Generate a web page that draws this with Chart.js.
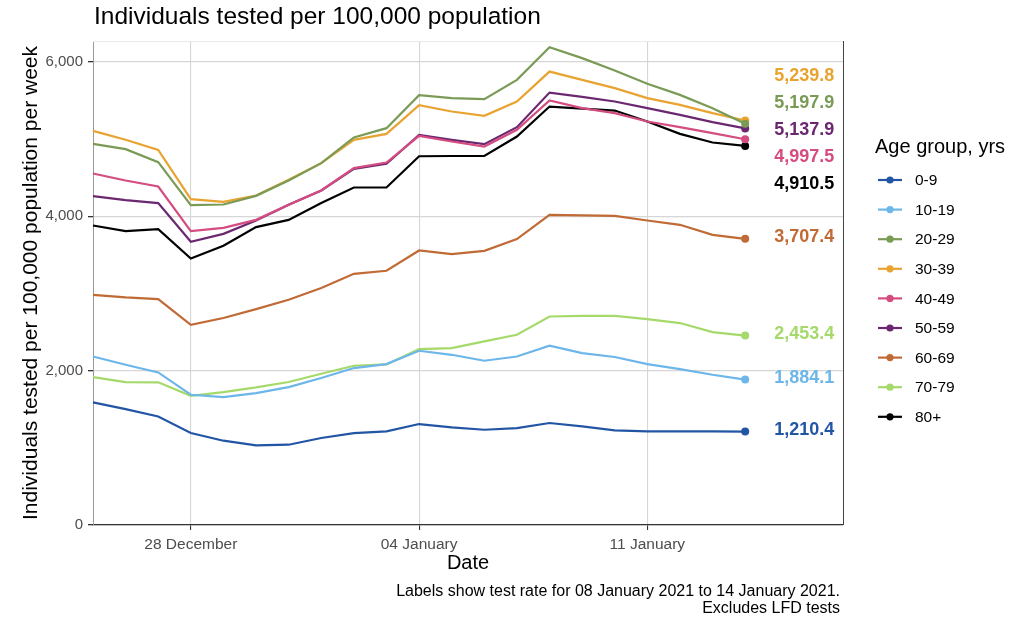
<!DOCTYPE html>
<html>
<head>
<meta charset="utf-8">
<script src="https://cdn.jsdelivr.net/npm/chart.js@4.4.0/dist/chart.umd.min.js"></script>
<style>
  html, body { margin: 0; padding: 0; background: #ffffff; }
  #c { display: block; }
</style>
</head>
<body>
<canvas id="c" width="1015" height="623"></canvas>
<script>
// ---------------- data ----------------
const dates = [
  '2020-12-25','2020-12-26','2020-12-27','2020-12-28','2020-12-29','2020-12-30','2020-12-31',
  '2021-01-01','2021-01-02','2021-01-03','2021-01-04','2021-01-05','2021-01-06','2021-01-07',
  '2021-01-08','2021-01-09','2021-01-10','2021-01-11','2021-01-12','2021-01-13','2021-01-14'
];
const axisEndDate = '2021-01-17';
const tickDates = ['2020-12-28', '2021-01-04', '2021-01-11'];
const tickLabels = ['28 December', '04 January', '11 January'];
const yTicks = [0, 2000, 4000, 6000];

const ageGroups = ['0-9', '10-19', '20-29', '30-39', '40-49', '50-59', '60-69', '70-79', '80+'];

const age0_9   = [1588,1502,1406,1191,1092,1031,1040,1127,1191,1212,1308,1264,1234,1256,1321,1277,1225,1212,1212,1212,1210.4];
const age10_19 = [2183,2076,1976,1687,1657,1709,1787,1904,2033,2085,2257,2205,2128,2183,2322,2227,2176,2085,2020,1946,1884.1];
const age20_29 = [4938,4869,4700,4144,4152,4264,4463,4688,5020,5141,5569,5530,5517,5767,6190,6048,5887,5715,5572,5400,5197.9];
const age30_39 = [5106,4990,4860,4222,4187,4268,4472,4688,4990,5067,5439,5357,5300,5486,5874,5767,5659,5530,5443,5335,5239.8];
const age40_49 = [4553,4463,4385,3807,3850,3953,4148,4333,4623,4696,5041,4968,4903,5119,5499,5400,5335,5227,5154,5076,4997.5];
const age50_59 = [4260,4209,4170,3669,3772,3945,4148,4333,4614,4679,5054,4990,4934,5154,5602,5547,5486,5400,5313,5219,5137.9];
const age60_69 = [2982,2948,2927,2594,2681,2797,2918,3069,3254,3293,3556,3510,3552,3704,4018,4010,4005,3945,3889,3759,3707.4];
const age70_79 = [1916,1852,1848,1674,1722,1782,1852,1959,2063,2080,2279,2292,2378,2464,2701,2710,2710,2668,2616,2499,2453.4];
const age80    = [3880,3807,3833,3453,3617,3859,3953,4170,4372,4372,4777,4780,4780,5032,5421,5395,5369,5227,5067,4955,4910.5];

const seriesValues = [age0_9, age10_19, age20_29, age30_39, age40_49, age50_59, age60_69, age70_79, age80];
const seriesColors = ['#2255a4', '#6db6ea', '#7a9b55', '#e8a330', '#d44c80', '#6b2870', '#c06a35', '#a5d96a', '#000000'];

// ---------------- helpers ----------------
const DAY = 86400000;
const t0 = Date.parse(dates[0]);
const dayIndex = d => Math.round((Date.parse(d) - t0) / DAY);
const xTickValues = tickDates.map(dayIndex);
const fmt = v => v.toLocaleString('en-US', { minimumFractionDigits: 1, maximumFractionDigits: 1 });
const FONT = "'Liberation Sans', Arial, Helvetica, sans-serif";

const datasets = seriesValues.map((vals, i) => ({
  label: ageGroups[i],
  data: vals.map((v, j) => ({ x: dayIndex(dates[j]), y: v })),
  borderColor: seriesColors[i],
  backgroundColor: seriesColors[i],
  borderWidth: 2.2,
  tension: 0,
  pointRadius: ctx => (ctx.dataIndex === vals.length - 1 ? 4 : 0),
  pointHoverRadius: 0,
  pointBorderWidth: 0,
  clip: false
}));

// ---------------- plugins ----------------
const decorPlugin = {
  id: 'decor',
  beforeDraw(chart) {
    const { ctx } = chart;
    ctx.save();
    ctx.fillStyle = '#ffffff';
    ctx.fillRect(0, 0, chart.width, chart.height);
    ctx.restore();
  },
  beforeDatasetsDraw(chart) {
    const { ctx, chartArea: a } = chart;
    ctx.save();
    ctx.strokeStyle = '#ebebeb';
    ctx.lineWidth = 1;
    ctx.beginPath();
    ctx.moveTo(a.left, a.top + 0.5);
    ctx.lineTo(a.right, a.top + 0.5);
    ctx.stroke();
    ctx.strokeStyle = '#444444';
    ctx.beginPath();
    ctx.moveTo(a.right + 0.5, a.top);
    ctx.lineTo(a.right + 0.5, a.bottom);
    ctx.stroke();
    ctx.restore();
  },
  afterDatasetsDraw(chart) {
    const { ctx, chartArea: a } = chart;
    ctx.save();

    // ---- end-of-line value labels (repelled vertically) ----
    const gap = 27;
    let items = chart.data.datasets.map((ds, i) => {
      const meta = chart.getDatasetMeta(i);
      const pt = meta.data[meta.data.length - 1];
      const raw = ds.data[ds.data.length - 1].y;
      return { i, x: pt.x, y0: pt.y, text: fmt(raw), color: ds.borderColor };
    }).sort((p, q) => p.y0 - q.y0);
    let clusters = items.map(it => ({ members: [it], center: it.y0 }));
    let changed = true;
    while (changed) {
      changed = false;
      for (let k = 0; k < clusters.length - 1; k++) {
        const c1 = clusters[k], c2 = clusters[k + 1];
        const end1 = c1.center + (c1.members.length - 1) * gap / 2;
        const start2 = c2.center - (c2.members.length - 1) * gap / 2;
        if (start2 - end1 < gap) {
          const members = c1.members.concat(c2.members);
          const center = members.reduce((s, m) => s + m.y0, 0) / members.length;
          clusters.splice(k, 2, { members, center });
          changed = true;
          break;
        }
      }
    }
    ctx.font = 'bold 18px ' + FONT;
    ctx.textAlign = 'left';
    ctx.textBaseline = 'middle';
    clusters.forEach(c => {
      c.members.forEach((m, idx) => {
        const y = c.center + (idx - (c.members.length - 1) / 2) * gap - 2;
        ctx.fillStyle = m.color;
        ctx.fillText(m.text, m.x + 29, y);
      });
    });

    // ---- title ----
    ctx.fillStyle = '#000000';
    ctx.font = '24.5px ' + FONT;
    ctx.textAlign = 'left';
    ctx.textBaseline = 'middle';
    ctx.fillText('Individuals tested per 100,000 population', a.left + 1, 17);

    // ---- legend ----
    const lx = a.right + 32;
    ctx.font = '20px ' + FONT;
    ctx.fillStyle = '#000000';
    ctx.fillText('Age group, yrs', lx, 147);
    ctx.font = '15.5px ' + FONT;
    chart.data.datasets.forEach((ds, i) => {
      const y = 180 + i * 29.6;
      ctx.strokeStyle = ds.borderColor;
      ctx.lineWidth = 2.2;
      ctx.beginPath();
      ctx.moveTo(lx + 3, y);
      ctx.lineTo(lx + 27, y);
      ctx.stroke();
      ctx.fillStyle = ds.borderColor;
      ctx.beginPath();
      ctx.arc(lx + 15, y, 3.6, 0, Math.PI * 2);
      ctx.fill();
      ctx.fillStyle = '#000000';
      ctx.fillText(ds.label, lx + 40, y + 1);
    });

    // ---- caption ----
    ctx.font = '16px ' + FONT;
    ctx.textAlign = 'right';
    ctx.fillStyle = '#000000';
    ctx.fillText('Labels show test rate for 08 January 2021 to 14 January 2021.', 840, 592);
    ctx.fillText('Excludes LFD tests', 840, 609);
    ctx.restore();
  }
};

// ---------------- chart ----------------
new Chart(document.getElementById('c'), {
  type: 'line',
  data: { datasets },
  options: {
    responsive: false,
    maintainAspectRatio: false,
    animation: false,
    events: [],
    layout: { padding: { left: 0, top: 41, right: 172, bottom: 48 } },
    plugins: { legend: { display: false }, tooltip: { enabled: false }, title: { display: false } },
    scales: {
      x: {
        type: 'linear',
        min: 0,
        max: dayIndex(axisEndDate),
        afterBuildTicks: s => { s.ticks = xTickValues.map(v => ({ value: v })); },
        afterFit: s => { s.height = 50; },
        ticks: {
          autoSkip: false,
          maxRotation: 0,
          padding: 5,
          color: '#4d4d4d',
          font: { family: FONT, size: 15.5 },
          callback: (v) => tickLabels[xTickValues.indexOf(v)]
        },
        grid: { color: '#d6d6d6', lineWidth: 1.1, tickLength: 5, tickColor: '#333333', drawTicks: true },
        border: { display: true, color: '#333333', width: 1.2 },
        title: { display: true, text: 'Date', color: '#000000', font: { family: FONT, size: 20 }, padding: { top: 0, bottom: 0 } }
      },
      y: {
        type: 'linear',
        min: 0,
        max: 6270,
        afterBuildTicks: s => { s.ticks = yTicks.map(v => ({ value: v })); },
        afterFit: s => { s.width = 93; },
        ticks: {
          padding: 5,
          color: '#4d4d4d',
          font: { family: FONT, size: 15 },
          callback: v => v.toLocaleString('en-US')
        },
        grid: { color: '#d6d6d6', lineWidth: 1.3, tickLength: 5, tickColor: '#333333', drawTicks: true },
        border: { display: true, color: '#999999', width: 1 },
        title: { display: true, text: 'Individuals tested per 100,000 population per week', color: '#000000', font: { family: FONT, size: 21 }, padding: { top: 19, bottom: 0 } }
      }
    }
  },
  plugins: [decorPlugin]
});
</script>
</body>
</html>
